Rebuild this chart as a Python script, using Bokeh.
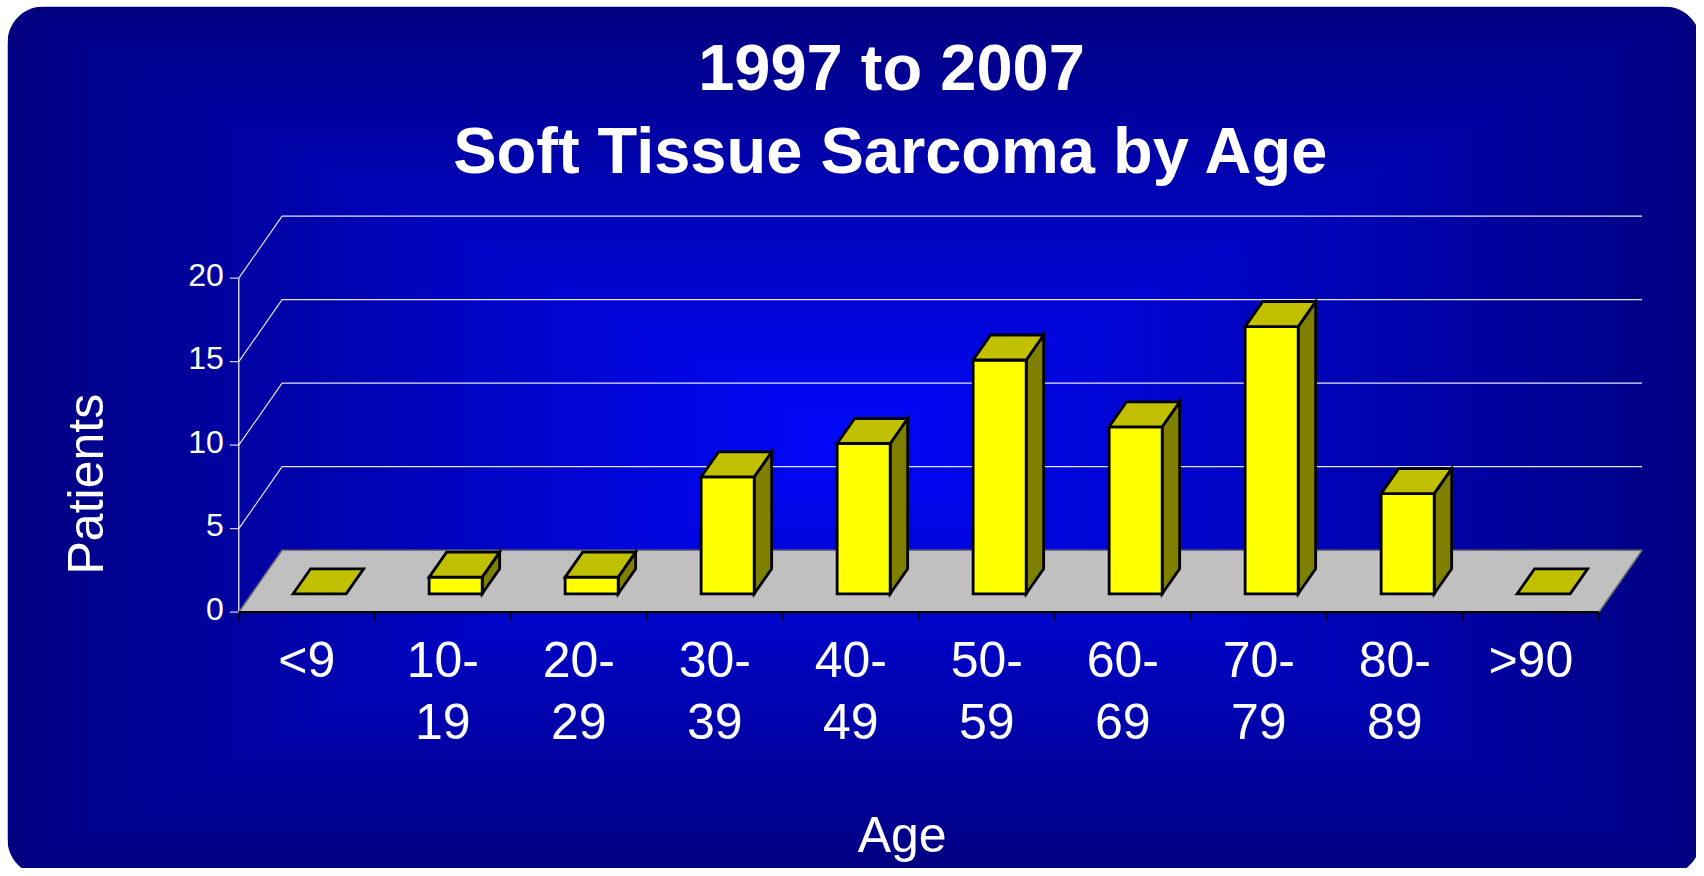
import numpy as np
from bokeh.plotting import figure
from bokeh.models import Range1d
from bokeh.core.properties import value
from bokeh.embed import file_html
from bokeh.resources import INLINE

# ---------------- data ----------------
categories = ["<9", "10-19", "20-29", "30-39", "40-49", "50-59",
              "60-69", "70-79", "80-89", ">90"]
patients = [0, 1, 1, 7, 9, 14, 10, 16, 6, 0]
y_ticks = [0, 5, 10, 15, 20]
title_lines = ["1997 to 2007", "Soft Tissue Sarcoma by Age"]
x_title = "Age"
y_title = "Patients"

# ---------------- layout (pixels) ----------------
W, H = 1696, 868
X0_PX, Y0_PX = 238.3, 611.7        # canvas position of the data origin (front-left floor corner)
UX, UY = 136.0, 16.7               # pixels per category / per patient
DEPTH_DX, DEPTH_DY = 43.3, 62.0    # oblique depth offset in pixels
DXu, DYv = DEPTH_DX / UX, DEPTH_DY / UY
BAR_W = 0.39
D0, D1 = 0.297, 0.70
FONT = "Liberation Sans"
SH = 0.4                            # baseline correction (em)

p = figure(width=W, height=H,
           x_range=Range1d(-X0_PX / UX, (W - X0_PX) / UX),
           y_range=Range1d((Y0_PX - H) / UY, Y0_PX / UY),
           x_axis_type=None, y_axis_type=None,
           toolbar_location=None, output_backend="svg",
           min_border=0, outline_line_color=None,
           background_fill_color="white", border_fill_color="white")
p.extra_x_ranges = {"px": Range1d(0, W)}
p.extra_y_ranges = {"px": Range1d(H, 0)}
PX = dict(x_range_name="px", y_range_name="px")

# ---------------- background: rectangular "from centre" gradient ----------------
RL, RT, RR, RB = 7.0, 6.0, 1700.0, 875.0
cx, cy = (RL + RR) / 2, (RT + RB) / 2
hx, hy = (RR - RL) / 2, (RB - RT) / 2
n_lv = 128
ts = np.linspace(1.0, 1.0 / n_lv, n_lv)
edge = np.array([0, 0, 128]); centre = np.array([0, 8, 252])
cols = []
for t in ts:
    c = centre + (edge - centre) * t
    cols.append("#%02x%02x%02x" % tuple(int(round(v)) for v in c))
p.quad(left=cx - ts * hx, right=cx + ts * hx, top=cy - ts * hy, bottom=cy + ts * hy,
       fill_color=cols, line_color=None, **PX)

# rounded corner masks + outside strips
r = 36.0
ang = np.linspace(0, np.pi / 2, 24)
mx, my = [], []
for (ccx, ccy, kx, ky) in [(RL + r, RT + r, -1, -1), (RR - r, RT + r, 1, -1),
                           (RR - r, RB - r, 1, 1), (RL + r, RB - r, -1, 1)]:
    ox, oy = ccx + kx * (r + 3), ccy + ky * (r + 3)
    ax = ccx + kx * r * np.cos(ang); ay = ccy + ky * r * np.sin(ang)
    mx.append([ox, ox] + list(ax) + [ccx]); my.append([oy, ccy] + list(ay) + [oy])
p.patches(xs=mx, ys=my, fill_color="white", line_color=None, **PX)
p.quad(left=[-2, -2, RR, -2], right=[RL, W + 2, W + 2, W + 2],
       top=[-2, -2, -2, RB], bottom=[H + 2, RT, H + 2, H + 2],
       fill_color="white", line_color=None, **PX)

def proj(u, v, d):
    return u + d * DXu, v + d * DYv

n = len(categories)

# ---------------- walls: gridlines ----------------
gx, gy = [], []
for t in y_ticks[1:]:
    a = proj(0, t, 0); b = proj(0, t, 1); c = proj(n, t, 1)
    gx.append([a[0], b[0], c[0]]); gy.append([a[1], b[1], c[1]])
p.multi_line(xs=gx, ys=gy, line_color="white", line_alpha=0.9, line_width=1.2)

# y axis line and ticks
p.line(x=[0, 0], y=[y_ticks[0], y_ticks[-1]], line_color="white", line_width=1.2)
p.segment(x0=[-9 / UX] * len(y_ticks), y0=y_ticks, x1=[0] * len(y_ticks), y1=y_ticks,
          line_color="white", line_alpha=0.8, line_width=1.2)

# ---------------- floor ----------------
fl = [proj(0, 0, 0), proj(n, 0, 0), proj(n, 0, 1), proj(0, 0, 1)]
p.patch(x=[q[0] for q in fl], y=[q[1] for q in fl], fill_color="#c0c0c0", line_color=None)
p.line(x=[fl[0][0], fl[3][0], fl[2][0], fl[1][0]], y=[fl[0][1], fl[3][1], fl[2][1], fl[1][1]],
       line_color="#707070", line_width=1.5)
p.line(x=[0, n], y=[0, 0], line_color="black", line_width=2.2)
p.segment(x0=list(range(n + 1)), y0=[0] * (n + 1), x1=list(range(n + 1)),
          y1=[-9 / UY] * (n + 1), line_color="black", line_width=1.2)

# ---------------- bars ----------------
bx, by, bc = [], [], []
for i, h in enumerate(patients):
    ul, ur = i + 0.5 - BAR_W / 2, i + 0.5 + BAR_W / 2
    top = [proj(ul, h, D0), proj(ur, h, D0), proj(ur, h, D1), proj(ul, h, D1)]
    if h > 0:
        side = [proj(ur, 0, D0), proj(ur, 0, D1), proj(ur, h, D1), proj(ur, h, D0)]
        front = [proj(ul, 0, D0), proj(ur, 0, D0), proj(ur, h, D0), proj(ul, h, D0)]
        for face, col in ((side, "#808000"), (front, "#ffff00")):
            bx.append([q[0] for q in face]); by.append([q[1] for q in face]); bc.append(col)
    bx.append([q[0] for q in top]); by.append([q[1] for q in top]); bc.append("#c0c000")
p.patches(xs=bx, ys=by, fill_color=bc, line_color="black", line_width=2.8, line_join="miter")

# ---------------- texts ----------------
p.text(x=[0] * len(y_ticks), y=y_ticks, text=[str(t) for t in y_ticks],
       x_offset=-15, y_offset=9.3 - SH * 32, text_align="right", text_baseline="alphabetic",
       text_color="white", text_font=value(FONT), text_font_size=value("32px"))

line1 = [c.split("-")[0] + "-" if "-" in c else c for c in categories]
line2 = [c.split("-")[1] if "-" in c else "" for c in categories]
xc = [i + 0.5 for i in range(n)]
p.text(x=xc, y=[0] * n, text=line1, y_offset=67.6 - SH * 50, text_align="center",
       text_baseline="alphabetic", text_color="white",
       text_font=value(FONT), text_font_size=value("50px"))
p.text(x=xc, y=[0] * n, text=line2, y_offset=129 - SH * 50, text_align="center",
       text_baseline="alphabetic", text_color="white",
       text_font=value(FONT), text_font_size=value("50px"))

p.text(x=[891, 891], y=[92.7 - SH * 65, 176 - SH * 65], text=title_lines, text_align="center",
       text_baseline="alphabetic", text_color="white", text_font=value(FONT),
       text_font_size=value("65px"), text_font_style="bold", **PX)
p.text(x=[901.7], y=[854 - SH * 50], text=[x_title], text_align="center",
       text_baseline="alphabetic", text_color="white", text_font=value(FONT),
       text_font_size=value("50px"), **PX)
p.text(x=[85.7], y=[483.7], text=[y_title], angle=np.pi / 2, text_align="center",
       text_baseline="alphabetic", text_color="white", text_font=value(FONT),
       text_font_size=value("50px"), **PX)

open("out.html", "w").write(file_html(p, INLINE))
